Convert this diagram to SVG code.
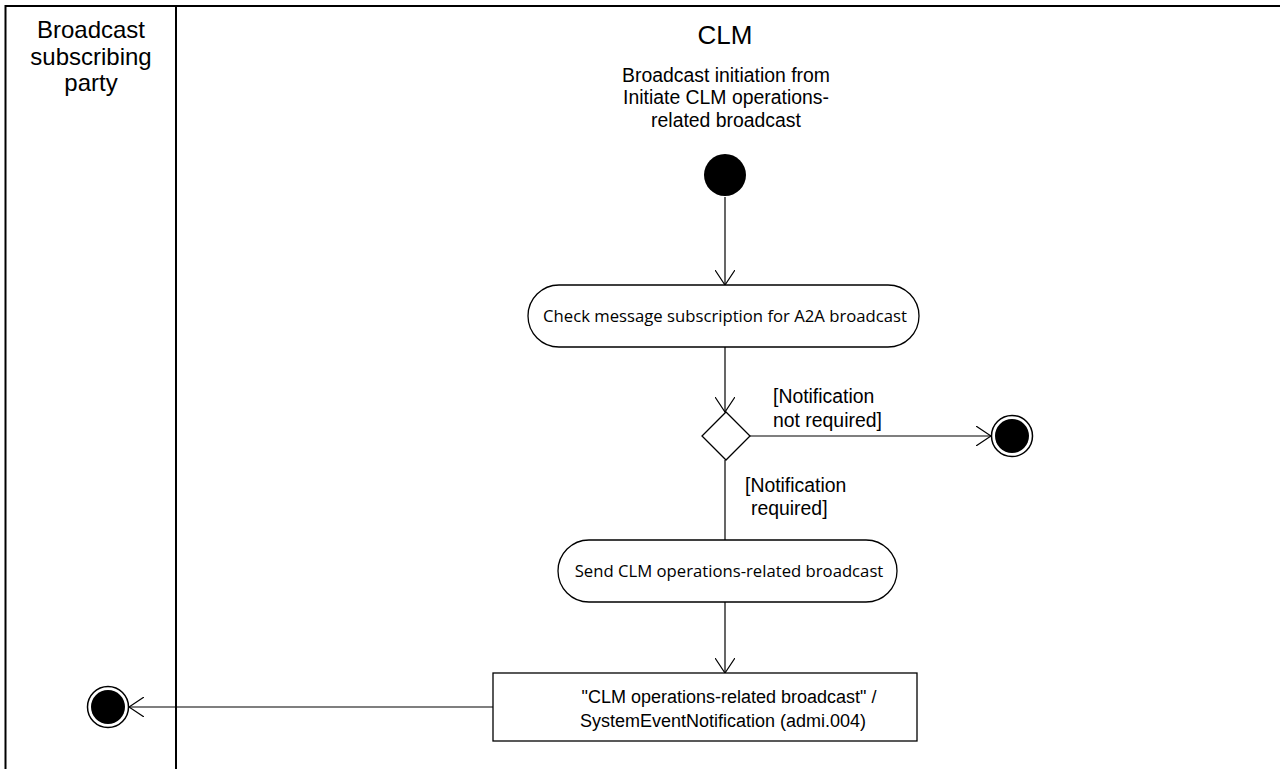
<svg xmlns="http://www.w3.org/2000/svg" width="1280" height="769" viewBox="0 0 1280 769">
<defs>
<style>
.lane{stroke:#000;stroke-width:2;fill:none}
.edge{stroke:#000;stroke-width:1.2;fill:none}
.act{fill:#fff;stroke:#000;stroke-width:1.3}
.t{font-family:"Liberation Sans",Arial,sans-serif;fill:#000;text-anchor:middle}
.a{font-family:"Open Sans","Liberation Sans",sans-serif;fill:#000;text-anchor:middle;font-size:16.7px}
.g{font-family:"Liberation Sans",Arial,sans-serif;fill:#000;font-size:19.4px}
</style>
<marker id="arr" viewBox="0 0 16 20" refX="15" refY="10" markerWidth="16" markerHeight="20" markerUnits="userSpaceOnUse" orient="auto">
<path d="M0,0 L15,10 L0,20" fill="none" stroke="#000" stroke-width="1.2"/>
</marker>
</defs>
<rect width="1280" height="769" fill="#fff"/>
<g id="lanes">
<path class="lane" d="M5.5,769 V6 H1280 M176,6 V769"/>
<text class="t" font-size="24" x="91" y="38">Broadcast</text>
<text class="t" font-size="24" x="91" y="65">subscribing</text>
<text class="t" font-size="24" x="91" y="91">party</text>
<text class="t" font-size="26" x="725" y="44">CLM</text>
</g>
<g id="connectors">
<line class="edge" x1="725" y1="197" x2="725" y2="285" marker-end="url(#arr)"/>
<line class="edge" x1="725" y1="347" x2="725" y2="412" marker-end="url(#arr)"/>
<line class="edge" x1="750" y1="436" x2="991" y2="436" marker-end="url(#arr)"/>
<line class="edge" x1="725" y1="460" x2="725" y2="540"/>
<line class="edge" x1="725" y1="602" x2="725" y2="673" marker-end="url(#arr)"/>
<line class="edge" x1="493" y1="707" x2="129" y2="707" marker-end="url(#arr)"/>
<text class="g" x="773" y="403">[Notification</text>
<text class="g" x="773" y="427">not required]</text>
<text class="g" x="745" y="492">[Notification</text>
<text class="g" x="751" y="515">required]</text>
</g>
<g id="start">
<text class="t" font-size="19.4" x="726" y="82">Broadcast initiation from</text>
<text class="t" font-size="19.4" x="726" y="104">Initiate CLM operations-</text>
<text class="t" font-size="19.4" x="726" y="127">related broadcast</text>
<circle cx="725" cy="175" r="21" fill="#000"/>
</g>
<g id="check">
<rect class="act" x="528" y="285" width="391" height="62" rx="31" ry="31"/>
<text class="a" x="725" y="322">Check message subscription for A2A broadcast</text>
</g>
<g id="decision">
<polygon class="act" points="726,412 750,436 726,460 702,436"/>
</g>
<g id="end1">
<circle cx="1012" cy="436" r="20.5" fill="#fff" stroke="#000" stroke-width="1.5"/>
<circle cx="1012" cy="436" r="17" fill="#000"/>
</g>
<g id="send">
<rect class="act" x="558" y="540" width="339" height="62" rx="31" ry="31"/>
<text class="a" x="729" y="577">Send CLM operations-related broadcast</text>
</g>
<g id="message">
<rect class="act" x="493" y="673" width="424" height="68"/>
<text class="t" font-size="18" x="729" y="703">"CLM operations-related broadcast" /</text>
<text class="t" font-size="18" x="723" y="727">SystemEventNotification (admi.004)</text>
</g>
<g id="end2">
<circle cx="108" cy="707" r="20.5" fill="#fff" stroke="#000" stroke-width="1.5"/>
<circle cx="108" cy="707" r="17" fill="#000"/>
</g>
</svg>
